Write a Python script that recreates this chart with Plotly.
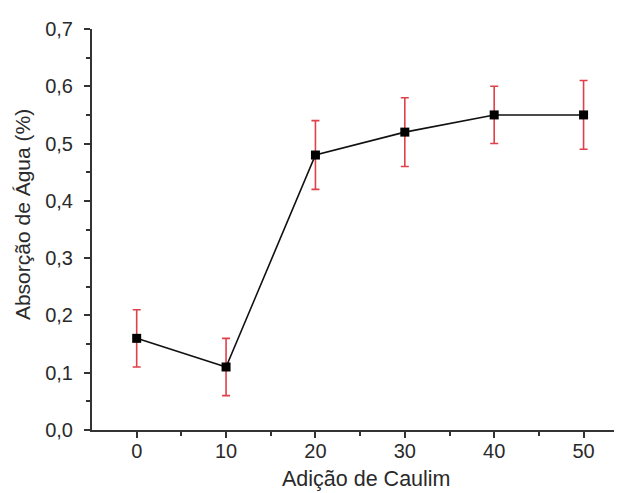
import plotly.graph_objects as go

caulim = [0, 10, 20, 30, 40, 50]
absorcao = [0.16, 0.11, 0.48, 0.52, 0.55, 0.55]
erro = [0.05, 0.05, 0.06, 0.06, 0.05, 0.06]

x_title = "Adição de Caulim"
y_title = "Absorção de Água (%)"

font_fam = "Liberation Sans, Arial, sans-serif"
txt = "#2a2a2a"
axc = "#333333"

fig = go.Figure()
fig.add_trace(go.Scatter(
    x=caulim, y=absorcao,
    mode="lines+markers",
    line=dict(color="#111111", width=1.6),
    marker=dict(symbol="square", size=9, color="#000000"),
    error_y=dict(type="data", array=erro, visible=True,
                 color="#e0404a", thickness=1.6, width=4),
    showlegend=False,
))

# page body has an 8px default margin, so the figure is sized to fit the window
fig.update_layout(
    width=614, height=485,
    margin=dict(l=84, r=0, t=21, b=63, autoexpand=False),
    paper_bgcolor="white", plot_bgcolor="white",
    separators=",.",
    font=dict(family=font_fam, size=20, color=txt),
    xaxis=dict(
        range=[-5, 54.3], tickmode="array", tickvals=caulim,
        showline=True, linecolor=axc, linewidth=2,
        ticks="outside", ticklen=6, tickwidth=1.5, tickcolor=axc,
        minor=dict(tickvals=[5, 15, 25, 35, 45], ticks="outside", ticklen=4,
                   tickwidth=1.5, tickcolor=axc),
        showgrid=False, zeroline=False,
        tickfont=dict(size=20),
        ticklabelstandoff=-4,
        automargin=False,
    ),
    yaxis=dict(
        range=[0, 0.7], dtick=0.1, tick0=0, tickformat=".1f",
        showline=True, linecolor=axc, linewidth=2,
        ticks="outside", ticklen=6, tickwidth=1.5, tickcolor=axc,
        minor=dict(dtick=0.05, ticks="outside", ticklen=4, tickwidth=1.5,
                   tickcolor=axc),
        showgrid=False, zeroline=False,
        tickfont=dict(size=20),
        ticklabelstandoff=7,
        automargin=False,
    ),
    annotations=[
        dict(text=x_title, xref="paper", yref="paper", x=0.517, y=-0.1222,
             xanchor="center", yanchor="middle", showarrow=False,
             borderpad=0, font=dict(size=21.5, color=txt)),
        dict(text=y_title, xref="paper", yref="paper", x=-0.132, y=0.536,
             xanchor="center", yanchor="middle", showarrow=False,
             textangle=-90, font=dict(size=21, color=txt)),
    ],
)

fig.write_html("out.html")
